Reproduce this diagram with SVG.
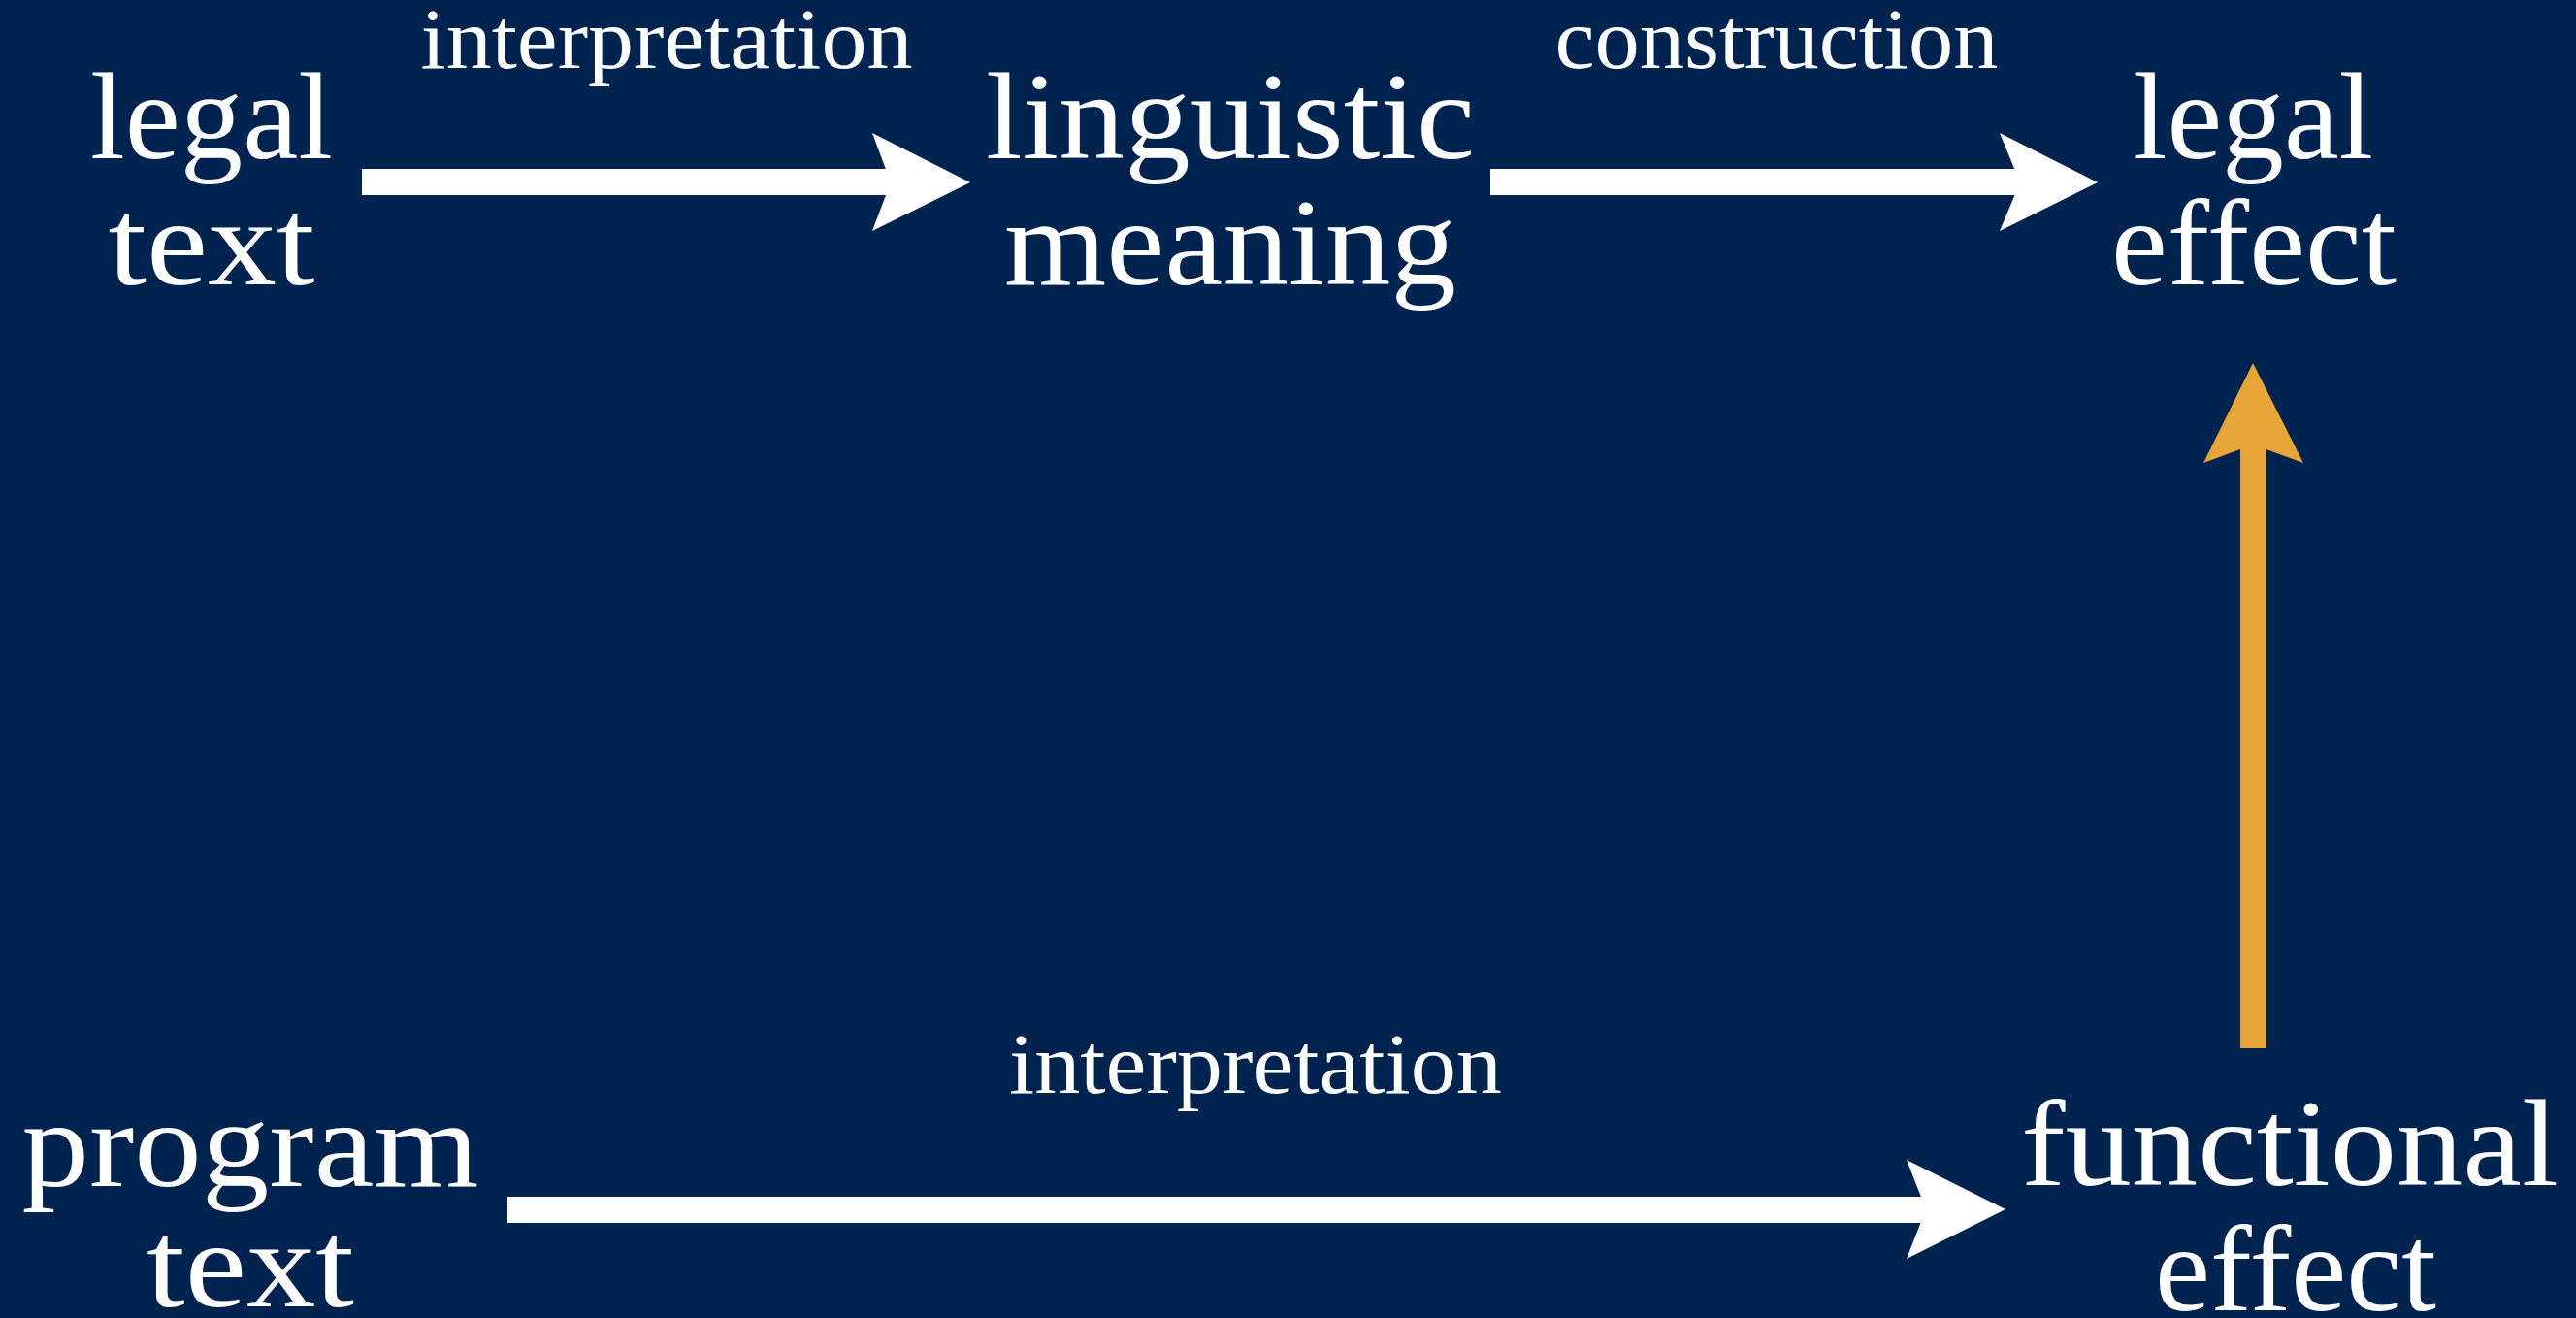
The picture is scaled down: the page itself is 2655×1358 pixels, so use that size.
<svg xmlns="http://www.w3.org/2000/svg" width="2655" height="1358" viewBox="0 0 2655 1358">
<style>
.big{font-family:"Liberation Serif","Times New Roman",serif;font-size:126px;fill:#ffffff;text-anchor:middle}
.lbl{font-family:"Liberation Serif","Times New Roman",serif;font-size:88px;fill:#ffffff;text-anchor:middle}
.wa{fill:#ffffff}
.oa{fill:#E6A536}
</style>
<rect x="0" y="0" width="2655" height="1358" fill="#002350"/>
<g id="connectors">
<g id="arrow-interp-top">
<rect class="wa" x="373" y="174" width="547" height="27"/>
<polygon class="wa" points="899,137 1000,188 899,238 918,188"/>
<text class="lbl" x="687" y="70" textLength="507" lengthAdjust="spacingAndGlyphs">interpretation</text>
</g>
<g id="arrow-construction">
<rect class="wa" x="1536" y="174" width="548" height="27"/>
<polygon class="wa" points="2061,137 2162,188 2061,238 2082,188"/>
<text class="lbl" x="1831" y="70" textLength="457" lengthAdjust="spacingAndGlyphs">construction</text>
</g>
<g id="arrow-interp-bottom">
<rect class="wa" x="523" y="1233" width="1464" height="27"/>
<polygon class="wa" points="1965,1195 2067,1246 1965,1297 1985,1246"/>
<text class="lbl" x="1294" y="1126" textLength="508" lengthAdjust="spacingAndGlyphs">interpretation</text>
</g>
<g id="arrow-orange">
<rect class="oa" x="2309" y="455" width="27" height="625"/>
<polygon class="oa" points="2271,477 2322,374 2374,477 2322,458"/>
</g>
</g>
<g id="node-legal-text">
<text class="big" x="218" y="163" textLength="250" lengthAdjust="spacingAndGlyphs">legal</text>
<text class="big" x="218" y="293" textLength="213" lengthAdjust="spacingAndGlyphs">text</text>
</g>
<g id="node-linguistic-meaning">
<text class="big" x="1268" y="163" textLength="504" lengthAdjust="spacingAndGlyphs">linguistic</text>
<text class="big" x="1268" y="293" textLength="466" lengthAdjust="spacingAndGlyphs">meaning</text>
</g>
<g id="node-legal-effect">
<text class="big" x="2322" y="163" textLength="248" lengthAdjust="spacingAndGlyphs">legal</text>
<text class="big" x="2323" y="293" textLength="294" lengthAdjust="spacingAndGlyphs">effect</text>
</g>
<g id="node-program-text">
<text class="big" x="258" y="1222" textLength="471" lengthAdjust="spacingAndGlyphs">program</text>
<text class="big" x="258" y="1346" textLength="214" lengthAdjust="spacingAndGlyphs">text</text>
</g>
<g id="node-functional-effect">
<text class="big" x="2360" y="1221" textLength="554" lengthAdjust="spacingAndGlyphs">functional</text>
<text class="big" x="2366" y="1350" textLength="290" lengthAdjust="spacingAndGlyphs">effect</text>
</g>
</svg>
